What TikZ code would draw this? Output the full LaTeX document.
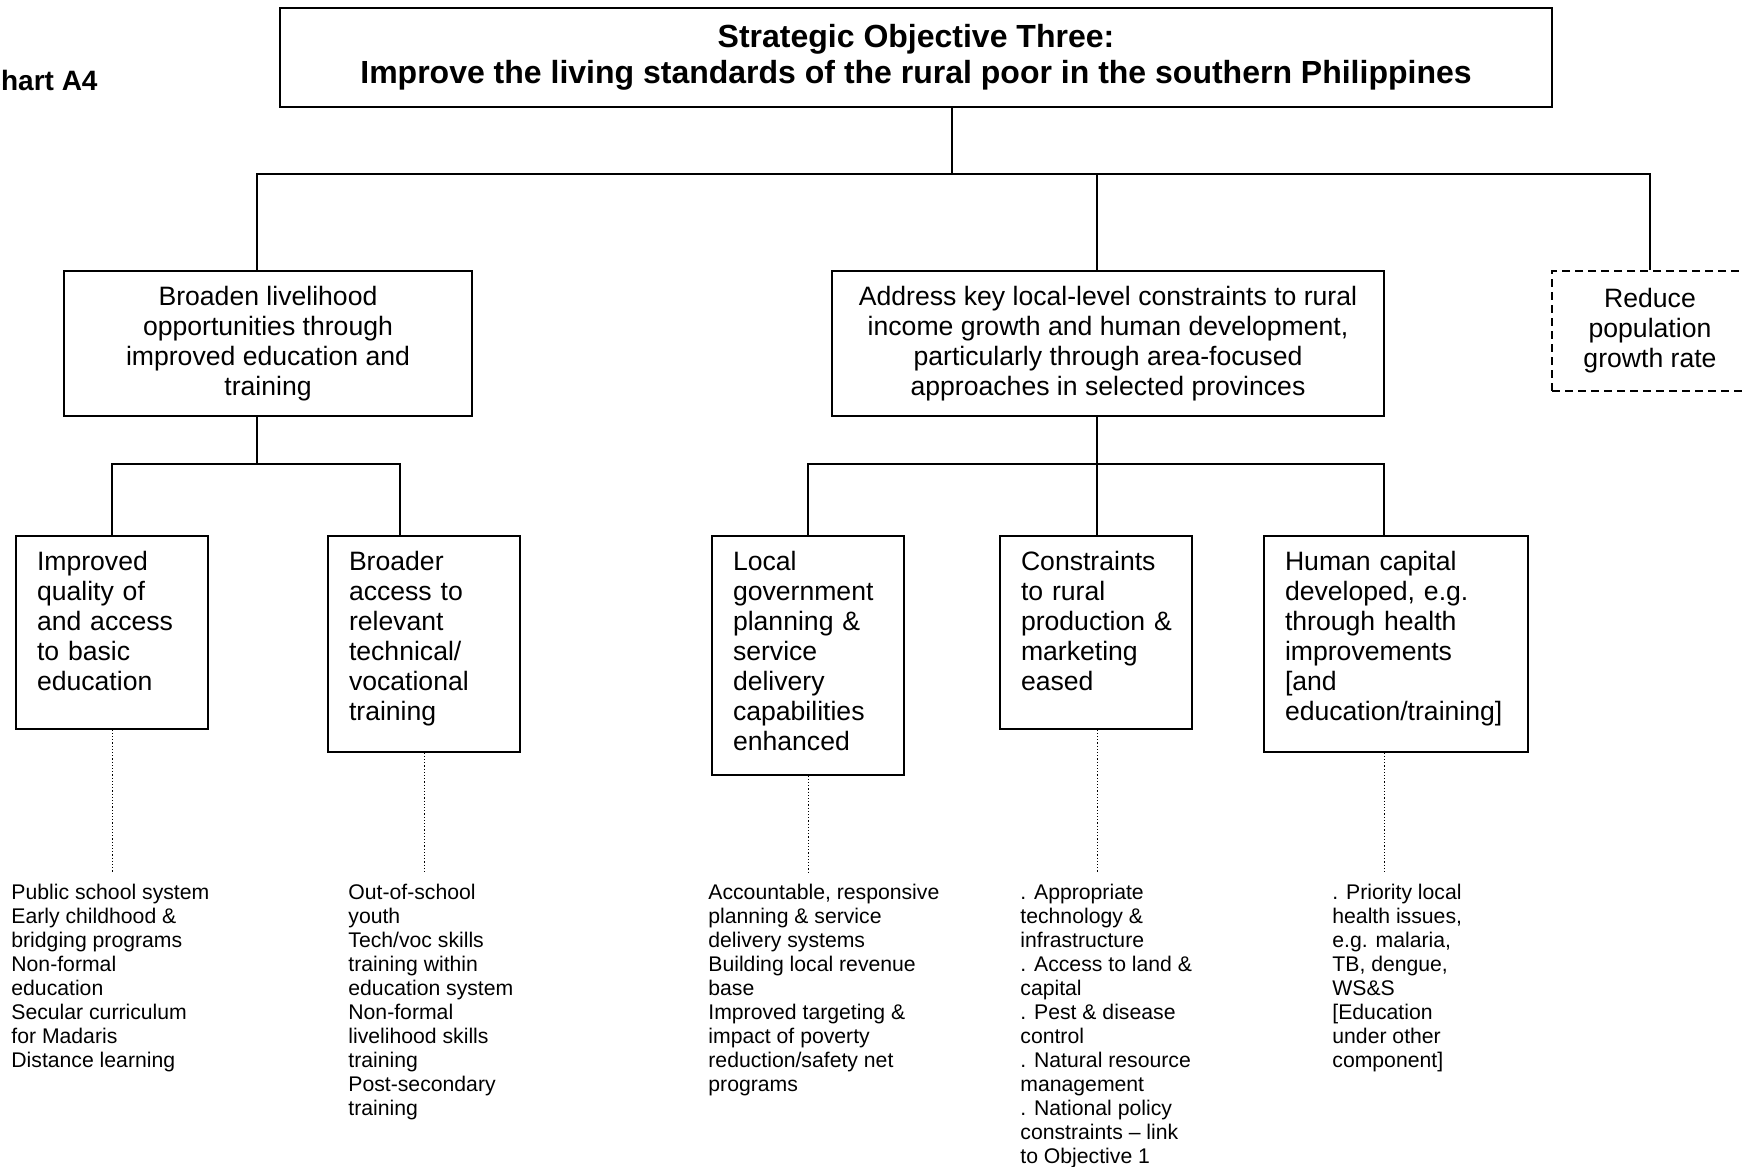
\documentclass[tikz,border=0pt]{standalone}
\usepackage{fontspec}
\setmainfont{Liberation Sans}
\usetikzlibrary{arrows,%
                shapes,positioning}

\begin{document}
\begin{tikzpicture}[x=0.5pt,y=-0.5pt,
  goal/.style={draw,line width=0.8pt,align=center,inner sep=0pt,font=\fontsize{13.3}{15}\selectfont},
  result/.style={draw,line width=0.8pt,anchor=north,align=left,inner xsep=10.5pt,inner ysep=0pt,text width=75pt,text height=17.5pt,font=\fontsize{13.3}{15}\selectfont},
  activity/.style={anchor=north west,align=left,inner sep=0pt,font=\fontsize{10.6}{12}\selectfont},
  link/.style={line width=0.7pt},
  trace/.style={line width=0.5pt,dash pattern=on 0.6pt off 1pt}]
\useasboundingbox (0,0) rectangle (1742,1167);

\node[anchor=east,inner sep=0pt,font=\bfseries\fontsize{14}{16}\selectfont] (chart) at (98,80) {Chart A4};

\node[goal,minimum width=636pt,minimum height=49.5pt,font=\bfseries\fontsize{16}{17.8}\selectfont] (SO) at (916,57.5)
  {Strategic Objective Three:\\Improve the living standards of the rural poor in the southern Philippines};

\node[goal,minimum width=204pt,minimum height=72.5pt] (IR1) at (268,343.5)
  {Broaden livelihood\\opportunities through\\improved education and\\training};
\node[goal,minimum width=276pt,minimum height=72.5pt] (IR2) at (1108,343.5)
  {Address key local-level constraints to rural\\income growth and human development,\\particularly through area-focused\\approaches in selected provinces};
\node[goal,dash pattern=on 4pt off 2.5pt,minimum width=98pt,minimum height=60pt] (IR3) at (1650,331)
  {Reduce\\population\\growth rate};

\node[result,text depth=79pt] (SR1) at (112,535)
  {Improved\\quality of\\and access\\to basic\\education};
\node[result,text depth=90.5pt] (SR2) at (424,535)
  {Broader\\access to\\relevant\\technical/\\vocational\\training};
\node[result,text depth=102pt] (SR3) at (808,535)
  {Local\\government\\planning \&\\service\\delivery\\capabilities\\enhanced};
\node[result,text depth=79pt] (SR4) at (1096,535)
  {Constraints\\to rural\\\mbox{production \&}\\marketing\\eased};
\node[result,text width=111pt,text depth=90.5pt] (SR5) at (1396,535)
  {Human capital\\developed, e.g.\\through health\\improvements\\{[}and\\education/training{]}};

\node[activity] (act1) at (11,884)
  {Public school system\\Early childhood \&\\bridging programs\\Non-formal\\education\\Secular curriculum\\for Madaris\\Distance learning};
\node[activity] (act2) at (348,884)
  {Out-of-school\\youth\\Tech/voc skills\\training within\\education system\\Non-formal\\livelihood skills\\training\\Post-secondary\\training};
\node[activity] (act3) at (708,884)
  {Accountable, responsive\\planning \& service\\delivery systems\\Building local revenue\\base\\Improved targeting \&\\impact of poverty\\reduction/safety net\\programs};
\node[activity] (act4) at (1020,884)
  {. Appropriate\\technology \&\\infrastructure\\. Access to land \&\\capital\\. Pest \& disease\\control\\. Natural resource\\management\\. National policy\\constraints -- link\\to Objective 1};
\node[activity] (act5) at (1332,884)
  {. Priority local\\health issues,\\e.g. malaria,\\TB, dengue,\\WS\&S\\{[}Education\\under other\\component{]}};

% tree connectors
\coordinate (top) at (952,174);
\coordinate (left) at (257,464);
\coordinate (mid) at (1097,464);

\draw[link] (SO.south -| top) -- (top);
\draw[link] ([xshift=-5.5pt]IR1.north) |- (top) -| (IR3.north);
\draw[link] (top) -| ([xshift=-5.5pt]IR2.north);

\draw[link] ([xshift=-5.5pt]IR1.south) -- (left);
\draw[link] (SR1.north) |- (left) -| ([xshift=-12pt]SR2.north);

\draw[link] ([xshift=-5.5pt]IR2.south) -- (mid);
\draw[link] (SR3.north) |- (mid) -| ([xshift=-6pt]SR5.north);
\draw[link] (mid) -- (mid |- SR4.north);

% dotted links to activities
\draw[trace] (SR1.south) -- ([yshift=6pt]SR1.south |- act1.north);
\draw[trace] (SR2.south) -- ([yshift=6pt]SR2.south |- act2.north);
\draw[trace] (SR3.south) -- ([yshift=6pt]SR3.south |- act3.north);
\draw[trace] (SR4.south -| mid) -- ([yshift=6pt]mid |- act4.north);
\draw[trace] ([xshift=-6pt]SR5.south) -- ([xshift=-6pt,yshift=6pt]SR5.south |- act5.north);

\end{tikzpicture}
\end{document}
